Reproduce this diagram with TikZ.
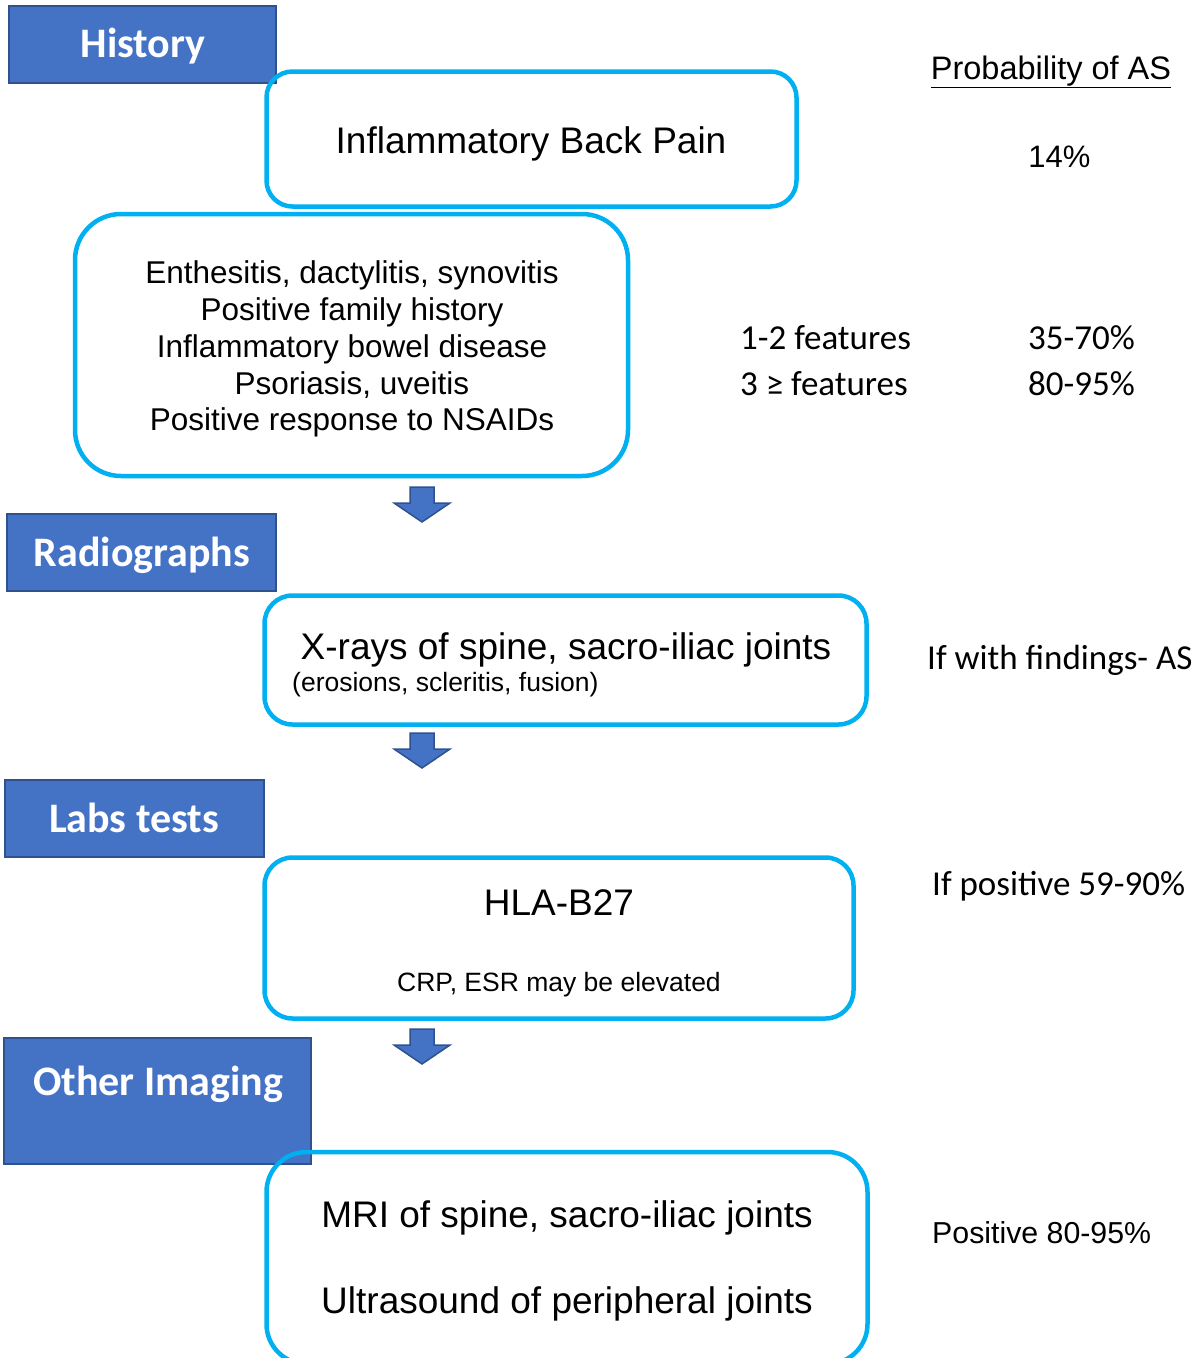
\documentclass[tikz,border=0pt]{standalone}
\usepackage{fontspec}
\setmainfont{Liberation Sans}
\newfontfamily\calibrifont{Carlito}
\definecolor{hdrfill}{HTML}{4472C4}
\definecolor{hdrline}{HTML}{2F528F}
\definecolor{boxline}{HTML}{00B0F0}
\tikzset{
  hdr/.style={draw=hdrline, fill=hdrfill, line width=2pt, inner sep=0pt},
  hdrtext/.style={text=white, inner sep=0pt, anchor=base, font=\calibrifont\bfseries\fontsize{42}{50}\selectfont},
  rbox/.style={draw=boxline, line width=4.5pt, inner sep=0pt},
  bigtext/.style={inner sep=0pt, anchor=base, font=\fontsize{37}{44}\selectfont},
  midtext/.style={inner sep=0pt, anchor=base, font=\fontsize{31.5}{37}\selectfont},
  smalltext/.style={inner sep=0pt, anchor=base, font=\fontsize{26.5}{32}\selectfont},
  caltext/.style={inner sep=0pt, anchor=base west, font=\calibrifont\fontsize{35}{42}\selectfont},
  ariatext/.style={inner sep=0pt, font=\fontsize{31}{37}\selectfont},
  downarrow/.pic={
    \path[draw=hdrline, fill=hdrfill, line width=1.5pt, line join=miter]
      (-12,0) -- (12,0) -- (12,16) -- (28,16) -- (0,35) -- (-28,16) -- (-12,16) -- cycle;
  }
}
\begin{document}
\begin{tikzpicture}[x=1pt,y=-1pt]
\useasboundingbox (0,0) rectangle (1198,1358);

% section headers
\node[hdr, minimum width=267, minimum height=77] (hHist) at (142.5,44.5) {};
\node[hdrtext] (tHist) at (143,57) {History};
\node[hdr, minimum width=269, minimum height=77] (hRad) at (141.5,552.5) {};
\node[hdrtext] (tRad) at (142,566) {Radiographs};
\node[hdr, minimum width=259, minimum height=77] (hLab) at (134.5,818.5) {};
\node[hdrtext] (tLab) at (134,832) {Labs tests};
\node[hdr, minimum width=307, minimum height=126] (hImg) at (157.5,1101) {};
\node[hdrtext] (tImg) at (158,1095) {Other Imaging};

% rounded content boxes
\node[rbox, rounded corners=26pt, minimum width=530, minimum height=135] (bIBP) at (531.5,139) {};
\node[bigtext] (tIBP) at (531,153) {Inflammatory Back Pain};

\node[rbox, rounded corners=46pt, minimum width=553, minimum height=262] (bFeat) at (351.5,345) {};
\node[midtext] (f1) at (352,283) {Enthesitis, dactylitis, synovitis};
\node[midtext] (f2) at (352,320) {Positive family history};
\node[midtext] (f3) at (352,357) {Inflammatory bowel disease};
\node[midtext] (f4) at (352,394) {Psoriasis, uveitis};
\node[midtext] (f5) at (352,430) {Positive response to NSAIDs};

\node[rbox, rounded corners=28pt, minimum width=602, minimum height=129] (bXray) at (565.5,660) {};
\node[bigtext] (tXray) at (566,659) {X-rays of spine, sacro-iliac joints};
\node[smalltext, anchor=base west] (tXsub) at (292,691) {(erosions, scleritis, fusion)};

\node[rbox, rounded corners=28pt, minimum width=589, minimum height=161] (bLab) at (559,938) {};
\node[bigtext] (tHLA) at (559,915) {HLA-B27};
\node[smalltext] (tCRP) at (559,991) {CRP, ESR may be elevated};

\node[rbox, rounded corners=40pt, minimum width=601, minimum height=212] (bImg) at (567,1258) {};
\node[bigtext] (tMRI) at (567,1227) {MRI of spine, sacro-iliac joints};
\node[bigtext] (tUS) at (567,1313) {Ultrasound of peripheral joints};

% block arrows
\pic at (422,487) {downarrow};
\pic at (422,733) {downarrow};
\pic at (422,1029) {downarrow};

% right column
\node[ariatext, anchor=base, font=\fontsize{32.5}{38}\selectfont] (tProb) at (1051,79) {\underline{Probability of AS}};
\node[ariatext, anchor=base] (t14) at (1059.5,167) {14\%};
\node[caltext] (tF12) at (740,349) {1-2 features};
\node[caltext] (tP12) at (1028,349) {35-70\%};
\node[caltext] (tF3) at (740,395) {3 ≥ features};
\node[caltext] (tP3) at (1028,395) {80-95\%};
\node[caltext] (tFind) at (927,669) {If with findings- AS};
\node[caltext] (tPos) at (932,895) {If positive 59-90\%};
\node[ariatext, anchor=base west, font=\fontsize{30.3}{36}\selectfont] (tMRIp) at (932,1243) {Positive 80-95\%};
\end{tikzpicture}
\end{document}
